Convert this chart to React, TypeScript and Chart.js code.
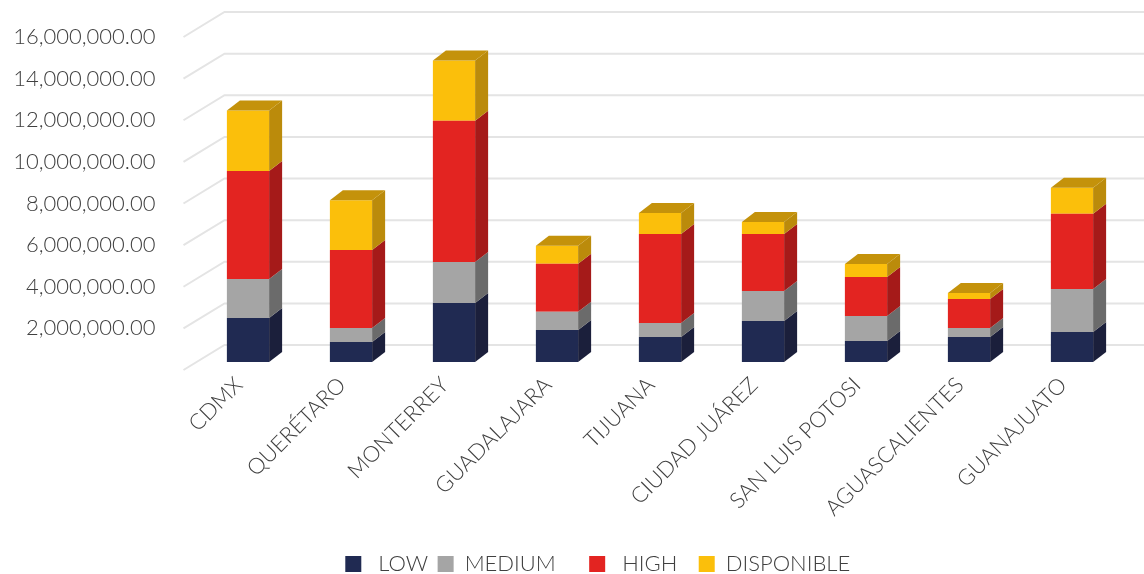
import { useEffect, useRef } from "react";
import { Chart, registerables } from "chart.js";

Chart.register(...registerables);

// Categories and stacked series (MXN)
const cities = [
  "CDMX",
  "QUERÉTARO",
  "MONTERREY",
  "GUADALAJARA",
  "TIJUANA",
  "CIUDAD JUÁREZ",
  "SAN LUIS POTOSI",
  "AGUASCALIENTES",
  "GUANAJUATO",
];
const lowValues = [2120000, 960000, 2840000, 1540000, 1200000, 1970000, 1010000, 1200000, 1440000];
const mediumValues = [1870000, 670000, 1970000, 870000, 670000, 1440000, 1200000, 430000, 2070000];
const highValues = [5190000, 3750000, 6780000, 2310000, 4280000, 2740000, 1880000, 1400000, 3610000];
const disponibleValues = [2900000, 2390000, 2900000, 870000, 1010000, 580000, 620000, 290000, 1250000];

const seriesLabels = [" LOW", "MEDIUM    ", " HIGH  ", "DISPONIBLE"];
const yMin = 0;
const yMax = 16000000;
const yStep = 2000000;

const frontColors = ["#202a52", "#a5a5a5", "#e32421", "#fbbf0b"];
const sideColors = ["#1b1f3b", "#6b6b6b", "#a51a19", "#bb8b0b"];
const topColor = "#c4920b";

const TEXT = "#404040";
const FONT = "Lato";

// depth of each column and of the floor / back wall
const BAR_DX = 13;
const BAR_DY = -10;
const FRONT_DX = -13;
const FRONT_DY = 8;
const BACK_DX = 28;
const BACK_DY = -17;

// horizontal nudge of the legend row
const LEGEND_SHIFT = 36;

const depthPlugin = {
  id: "depth3d",
  afterLayout(chart: any) {
    const lg = chart.legend;
    if (lg) {
      lg.left += LEGEND_SHIFT;
      lg.right += LEGEND_SHIFT;
    }
  },
  beforeDatasetsDraw(chart: any) {
    const { ctx, chartArea, scales } = chart;
    const y = scales.y;
    ctx.save();
    ctx.strokeStyle = "#e4e4e4";
    ctx.lineWidth = 2;
    y.ticks.forEach((t: any) => {
      const py = y.getPixelForValue(t.value);
      ctx.beginPath();
      ctx.moveTo(chartArea.left + FRONT_DX, py + FRONT_DY);
      ctx.lineTo(chartArea.left + BACK_DX, py + BACK_DY);
      ctx.lineTo(chart.width, py + BACK_DY);
      ctx.stroke();
    });
    ctx.restore();
  },
  afterDatasetsDraw(chart: any) {
    const { ctx } = chart;
    const n = chart.data.datasets.length;
    ctx.save();
    chart.data.datasets.forEach((_ds: any, di: number) => {
      const meta = chart.getDatasetMeta(di);
      meta.data.forEach((bar: any) => {
        const { x, y, base, width } = bar.getProps(["x", "y", "base", "width"], true);
        const left = x - width / 2;
        const right = x + width / 2;
        const top = Math.min(y, base);
        const bottom = Math.max(y, base);
        ctx.fillStyle = sideColors[di];
        ctx.beginPath();
        ctx.moveTo(right, top);
        ctx.lineTo(right + BAR_DX, top + BAR_DY);
        ctx.lineTo(right + BAR_DX, bottom + BAR_DY);
        ctx.lineTo(right, bottom);
        ctx.closePath();
        ctx.fill();
        if (di === n - 1) {
          ctx.fillStyle = topColor;
          ctx.beginPath();
          ctx.moveTo(left, top);
          ctx.lineTo(right, top);
          ctx.lineTo(right + BAR_DX, top + BAR_DY);
          ctx.lineTo(left + BAR_DX, top + BAR_DY);
          ctx.closePath();
          ctx.fill();
        }
      });
    });
    ctx.restore();
  },
};

const money = (v: number) =>
  v.toLocaleString("en-US", { minimumFractionDigits: 2, maximumFractionDigits: 2 });

export default function App() {
  const ref = useRef<HTMLCanvasElement>(null);

  useEffect(() => {
    const series = [lowValues, mediumValues, highValues, disponibleValues];
    const chart = new Chart(ref.current!, {
      type: "bar",
      data: {
        labels: cities,
        datasets: series.map((data, i) => ({
          label: seriesLabels[i],
          data,
          backgroundColor: frontColors[i],
          borderWidth: 0,
          categoryPercentage: 1,
          barPercentage: 0.41,
        })),
      },
      plugins: [depthPlugin],
      options: {
        animation: false,
        responsive: false,
        events: [],
        layout: { padding: { top: 29, right: 20.5, left: 0, bottom: 0 } },
        plugins: {
          tooltip: { enabled: false },
          legend: {
            position: "bottom",
            labels: {
              boxWidth: 16,
              boxHeight: 16,
              padding: 9.5,
              color: TEXT,
              font: { family: FONT, size: 22, weight: 300 },
            },
          },
        },
        scales: {
          x: {
            stacked: true,
            grid: { display: false, drawTicks: false },
            border: { display: false },
            ticks: {
              autoSkip: false,
              maxRotation: 45,
              minRotation: 45,
              padding: 10,
              labelOffset: -9,
              color: TEXT,
              font: { family: FONT, size: 22, weight: 300 },
            },
            afterFit: (s: any) => {
              s.height = 181.5;
            },
          },
          y: {
            stacked: true,
            min: yMin,
            max: yMax,
            grid: { display: false, drawTicks: false },
            border: { display: false },
            ticks: {
              stepSize: yStep,
              padding: 41,
              labelOffset: 8,
              color: TEXT,
              font: { family: FONT, size: 22, weight: 300 },
              callback: (v: any) => (Number(v) === 0 ? "" : money(Number(v))),
            },
            afterFit: (s: any) => {
              s.width = 196.5;
              s.paddingTop = 0;
              s.paddingBottom = 0;
            },
          },
        },
      },
    });
    return () => chart.destroy();
  }, []);

  return (
    <div
      style={{
        position: "fixed",
        left: 0,
        top: 0,
        width: 1144,
        height: 574,
        overflow: "hidden",
        background: "#ffffff",
      }}
    >
      <canvas ref={ref} width={1144} height={585} style={{ display: "block", width: 1144, height: 585 }} />
    </div>
  );
}
